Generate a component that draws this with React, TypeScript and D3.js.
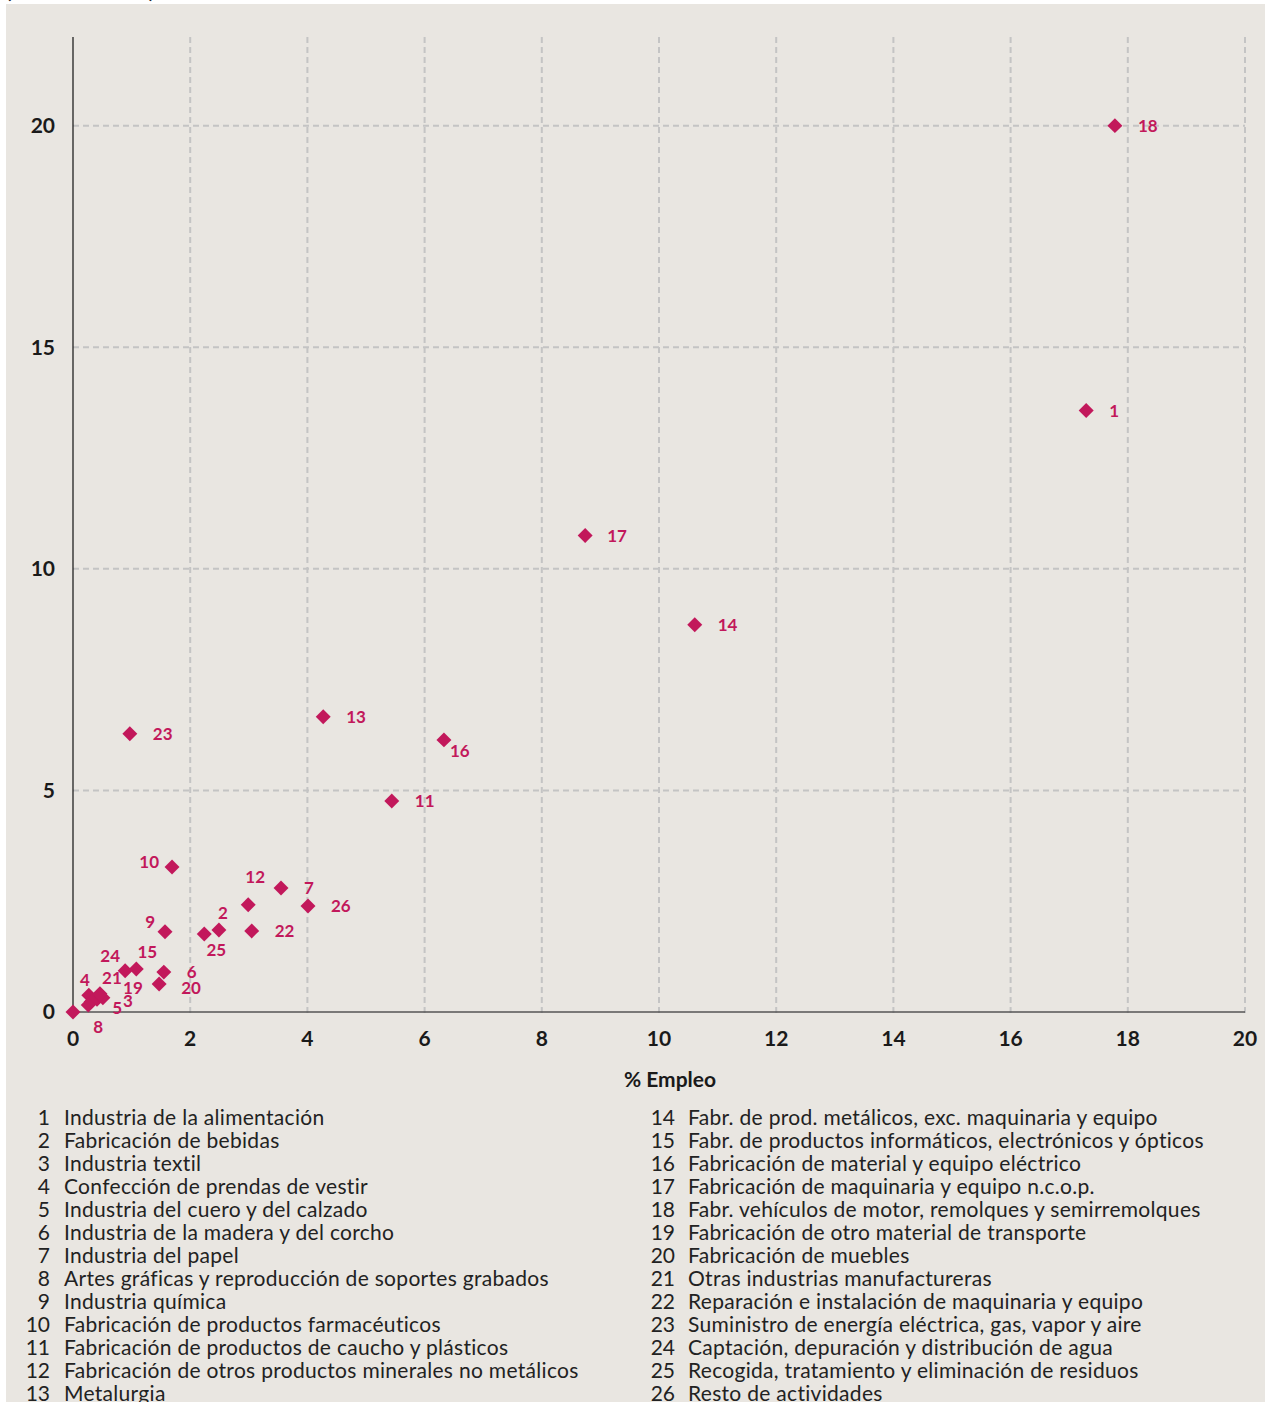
import * as d3 from 'd3'

// sector numbers and names
const ids = [1, 2, 3, 4, 5, 6, 7, 8, 9, 10, 11, 12, 13, 14, 15, 16, 17, 18, 19, 20, 21, 22, 23, 24, 25, 26]
const names = [
  'Industria de la alimentación',
  'Fabricación de bebidas',
  'Industria textil',
  'Confección de prendas de vestir',
  'Industria del cuero y del calzado',
  'Industria de la madera y del corcho',
  'Industria del papel',
  'Artes gráficas y reproducción de soportes grabados',
  'Industria química',
  'Fabricación de productos farmacéuticos',
  'Fabricación de productos de caucho y plásticos',
  'Fabricación de otros productos minerales no metálicos',
  'Metalurgia',
  'Fabr. de prod. metálicos, exc. maquinaria y equipo',
  'Fabr. de productos informáticos, electrónicos y ópticos',
  'Fabricación de material y equipo eléctrico',
  'Fabricación de maquinaria y equipo n.c.o.p.',
  'Fabr. vehículos de motor, remolques y semirremolques',
  'Fabricación de otro material de transporte',
  'Fabricación de muebles',
  'Otras industrias manufactureras',
  'Reparación e instalación de maquinaria y equipo',
  'Suministro de energía eléctrica, gas, vapor y aire',
  'Captación, depuración y distribución de agua',
  'Recogida, tratamiento y eliminación de residuos',
  'Resto de actividades',
]
// % Empleo (x)
const empleo = [17.29, 2.49, 0.41, 0.27, 0.31, 1.55, 3.55, 0.26, 1.57, 1.69, 5.44, 2.99, 4.27, 10.61, 1.08, 6.33, 8.74, 17.78, 0.51, 1.47, 0.46, 3.05, 0.97, 0.89, 2.24, 4.01]
// vertical axis values
const valores = [13.57, 1.85, 0.29, 0.38, 0.23, 0.9, 2.8, 0.16, 1.81, 3.27, 4.76, 2.42, 6.66, 8.74, 0.97, 6.14, 10.75, 20.0, 0.32, 0.63, 0.41, 1.83, 6.28, 0.93, 1.76, 2.39]
// unlabeled point at the origin
const origin = [0, 0]

const xTicks = [0, 2, 4, 6, 8, 10, 12, 14, 16, 18, 20]
const yTicks = [0, 5, 10, 15, 20]
const xTitle = '% Empleo'
const subtitle = '(% sobre el total)'

// label placement per sector: [dx, dy, anchor]
const labelPlace: [number, number, string][] = [
  [23, 0, 'start'], [4, -17, 'middle'], [31, 2, 'middle'], [-4, -15, 'middle'], [26, 6, 'middle'],
  [23, 0, 'start'], [23, 0, 'start'], [10, 22, 'middle'], [-10, -10, 'end'], [-13, -5, 'end'],
  [23, 0, 'start'], [7, -28, 'middle'], [23, 0, 'start'], [23, 0, 'start'], [11, -17, 'middle'],
  [6, 11, 'start'], [22, 0, 'start'], [23, 0, 'start'], [30, -10, 'middle'], [22, 4, 'start'],
  [12, -16, 'middle'], [23, 0, 'start'], [23, 0, 'start'], [-15, -15, 'middle'], [12, 16, 'middle'],
  [23, 0, 'start'],
]

const W = 1270
const H = 1402
const plot = { left: 73, right: 1245, top: 37, bottom: 1012 }
const pink = '#c2185b'
const font = 'Lato, "Open Sans", sans-serif'

const App = () => {
  const x = d3.scaleLinear().domain([0, 20]).range([plot.left, plot.right])
  const y = d3.scaleLinear().domain([0, 22]).range([plot.bottom, plot.top])
  const diamond = d3.symbol(d3.symbolSquare, 112)()

  const points = ids.map((id, i) => ({ id, x: empleo[i], y: valores[i], place: labelPlace[i] }))
  const half = Math.ceil(ids.length / 2)

  return (
    <div style={{ position: 'absolute', left: 0, top: 0 }}>
      <svg width={W} height={H} style={{ display: 'block', fontFamily: font }}>
        <rect x={0} y={0} width={W} height={H} fill="#fff" />
        <text x={6} y={-2} fontSize={20} fontWeight={700} fill="#222">{subtitle}</text>
        <rect x={6} y={4} width={1259} height={H - 4} fill="#e9e6e1" />

        {/* grid */}
        {xTicks.filter(t => t > 0).map(t => (
          <line key={'gx' + t} x1={x(t)} x2={x(t)} y1={plot.top} y2={plot.bottom + 5}
            stroke="#c4c4c4" strokeWidth={2} strokeDasharray="6,4" />
        ))}
        {yTicks.filter(t => t > 0).map(t => (
          <line key={'gy' + t} x1={plot.left} x2={plot.right} y1={y(t)} y2={y(t)}
            stroke="#c4c4c4" strokeWidth={2} strokeDasharray="6,4" />
        ))}

        {/* axes */}
        <line x1={plot.left} x2={plot.right} y1={y(0)} y2={y(0)} stroke="#555" strokeWidth={1.5} />
        <line x1={plot.left} x2={plot.left} y1={plot.top} y2={y(0)} stroke="#111" strokeWidth={1.2} />

        {xTicks.map(t => (
          <text key={'xt' + t} x={x(t)} y={y(0) + 34} textAnchor="middle" fontSize={21} fontWeight={700} fill="#1a1a1a">{t}</text>
        ))}
        {yTicks.map(t => (
          <text key={'yt' + t} x={55} y={y(t)} dy="0.35em" textAnchor="end" fontSize={21} fontWeight={700} fill="#1a1a1a">{t}</text>
        ))}
        <text x={(plot.left + plot.right) / 2 + 11} y={1087} textAnchor="middle" fontSize={21} fontWeight={700} fill="#1a1a1a">{xTitle}</text>

        {/* points */}
        <path d={diamond} transform={`translate(${x(origin[0])},${y(origin[1])}) rotate(45)`} fill={pink} />
        {points.map(p => (
          <path key={'p' + p.id} d={diamond} transform={`translate(${x(p.x)},${y(p.y)}) rotate(45)`} fill={pink} />
        ))}
        {points.map(p => (
          <text key={'l' + p.id} x={x(p.x) + p.place[0]} y={y(p.y) + p.place[1]} dy="0.35em"
            textAnchor={p.place[2]} fontSize={17} fontWeight={700} fill={pink}>{p.id}</text>
        ))}

        {/* legend */}
        {ids.map((id, i) => {
          const col = i < half ? 0 : 1
          const row = i < half ? i : i - half
          const numX = col === 0 ? 50 : 675
          const txtX = col === 0 ? 64 : 688
          const cy = 1118 + row * 23
          return (
            <g key={'lg' + id}>
              <text x={numX} y={cy} dy="0.35em" textAnchor="end" fontSize={21} fill="#222">{id}</text>
              <text x={txtX} y={cy} dy="0.35em" fontSize={21} letterSpacing={0.3} fill="#222">{names[i]}</text>
            </g>
          )
        })}
      </svg>
    </div>
  )
}

export default App
